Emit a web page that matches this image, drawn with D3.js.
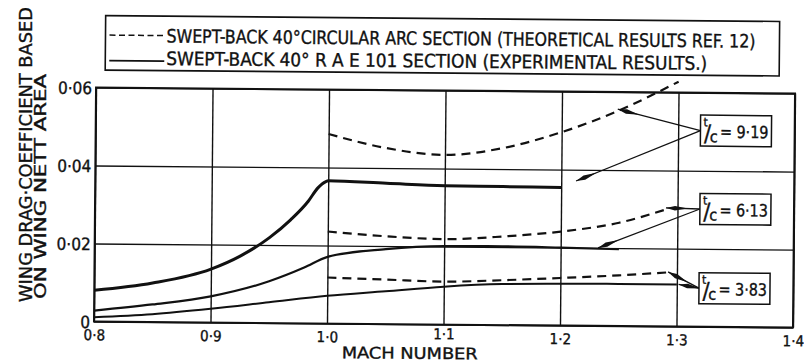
<!DOCTYPE html>
<html><head><meta charset="utf-8">
<script src="https://cdn.jsdelivr.net/npm/d3@7"></script>
<style>html,body{margin:0;padding:0;background:#fff;}svg{display:block;}</style>
</head><body>
<svg id="chart" width="804" height="363"></svg>
<script>
// Axis ticks
const machTicks = [0.8, 0.9, 1.0, 1.1, 1.2, 1.3, 1.4];
const machTickLabels = ["0·8", "0·9", "1·0", "1·1", "1·2", "1·3", "1·4"];
const cdTicks = [0, 0.02, 0.04, 0.06];
const cdTickLabels = ["0", "0·02", "0·04", "0·06"];

// Swept-back 40° RAE 101 section, experimental (solid)
const expMach919 = [0.80, 0.85, 0.90, 0.925, 0.95, 0.968, 0.983, 0.991, 0.998, 1.00, 1.05, 1.10, 1.15, 1.20];
const expCd919   = [0.0080, 0.0100, 0.0137, 0.0171, 0.0219, 0.0265, 0.0313, 0.0347, 0.0364, 0.0366, 0.0361, 0.0356, 0.0355, 0.0354];
const expMach613 = [0.80, 0.85, 0.90, 0.95, 0.98, 1.00, 1.05, 1.10, 1.15, 1.20, 1.25];
const expCd613   = [0.0028, 0.0045, 0.0067, 0.0107, 0.0143, 0.0171, 0.0192, 0.0201, 0.0202, 0.0200, 0.0197];
const expMach383 = [0.80, 0.85, 0.90, 0.95, 1.00, 1.05, 1.10, 1.15, 1.20, 1.25, 1.30];
const expCd383   = [0.0011, 0.0020, 0.0035, 0.0053, 0.0071, 0.0084, 0.0097, 0.0105, 0.0107, 0.0108, 0.0108];

// Swept-back 40° circular arc section, theoretical (dashed)
const theoMach919 = [1.00, 1.05, 1.10, 1.15, 1.20, 1.25, 1.30];
const theoCd919   = [0.0486, 0.0451, 0.0435, 0.0454, 0.0496, 0.0554, 0.0628];
const theoMach613 = [1.00, 1.05, 1.10, 1.15, 1.20, 1.25, 1.293];
const theoCd613   = [0.0236, 0.0225, 0.0219, 0.0227, 0.0241, 0.0265, 0.0303];
const theoMach383 = [1.00, 1.05, 1.10, 1.15, 1.20, 1.25, 1.293];
const theoCd383   = [0.0118, 0.0114, 0.0110, 0.0115, 0.0122, 0.0130, 0.0139];

// Thickness/chord ratios
const thicknessLabels = ["9·19", "6·13", "3·83"];

const legendTexts = [
  "SWEPT-BACK 40°CIRCULAR ARC SECTION (THEORETICAL RESULTS REF. 12)",
  "SWEPT-BACK 40° R A E 101 SECTION (EXPERIMENTAL RESULTS.)"
];

const FONT = "'DejaVu Sans Condensed', 'DejaVu Sans', sans-serif";
const INK = "#111";

const svg = d3.select("#chart");
svg.append("rect").attr("width", 804).attr("height", 363).attr("fill", "#fff");

const x = d3.scaleLinear().domain([0.8, 1.4]).range([94, 793]);
const y = d3.scaleLinear().domain([0, 0.06]).range([321.5, 87.5]);

// Lettering helper: slightly heavier strokes like pen lettering
const ink = sel => sel.attr("fill", INK).attr("stroke", INK).attr("stroke-width", 0.35)
  .style("font-family", FONT);

// The drawing sits slightly turned on the sheet
const g = svg.append("g").attr("transform", "rotate(0.5,94,321.5)");

// Grid + tick labels
const xAxis = d3.axisBottom(x).tickValues(machTicks)
  .tickSize(-(y(0) - y(0.06))).tickPadding(8)
  .tickFormat((d, i) => machTickLabels[i]);
const gx = g.append("g").attr("transform", `translate(0,${y(0)})`).call(xAxis);
const yAxis = d3.axisLeft(y).tickValues(cdTicks)
  .tickSize(-(x(1.4) - x(0.8))).tickPadding(4)
  .tickFormat((d, i) => cdTickLabels[i]);
const gy = g.append("g").attr("transform", `translate(${x(0.8)},0)`).call(yAxis);

[gx, gy].forEach(a => {
  a.select(".domain").remove();
  a.selectAll(".tick line").attr("stroke", INK).attr("stroke-width", 1.4);
  a.selectAll(".tick text").call(ink);
});
gx.selectAll(".tick text").style("font-size", "15px")
  .attr("dy", d => d === 1.1 ? "0.45em" : "0.71em");
gy.selectAll(".tick text").style("font-size", "17px").attr("dy", "0.36em");

// Plot frame
g.append("rect")
  .attr("x", x(0.8)).attr("y", y(0.06))
  .attr("width", x(1.4) - x(0.8)).attr("height", y(0) - y(0.06))
  .attr("fill", "none").attr("stroke", INK).attr("stroke-width", 2);

// Curves
const line = d3.line().x(d => x(d[0])).y(d => y(d[1])).curve(d3.curveMonotoneX);
const zip = (a, b) => a.map((v, i) => [v, b[i]]);
const series = [
  { pts: zip(expMach919, expCd919), dash: null, w: 3 },
  { pts: zip(expMach613, expCd613), dash: null, w: 2.2 },
  { pts: zip(expMach383, expCd383), dash: null, w: 2 },
  { pts: zip(theoMach919, theoCd919), dash: "9,6", w: 2.2 },
  { pts: zip(theoMach613, theoCd613), dash: "9,6", w: 2.2 },
  { pts: zip(theoMach383, theoCd383), dash: "9,6", w: 2.2 }
];
g.append("g").selectAll("path").data(series).join("path")
  .attr("d", d => line(d.pts))
  .attr("fill", "none").attr("stroke", INK)
  .attr("stroke-width", d => d.w)
  .attr("stroke-dasharray", d => d.dash)
  .attr("stroke-linecap", "butt");

// Axis title
g.append("text").text("MACH  NUMBER")
  .attr("x", 342).attr("y", 356)
  .attr("textLength", 136).attr("lengthAdjust", "spacingAndGlyphs")
  .style("font-size", "16px").call(ink);

// Legend
const lg = g.append("g");
lg.append("rect").attr("x", 103).attr("y", 15.5).attr("width", 674).attr("height", 54.5)
  .attr("fill", "#fff").attr("stroke", INK).attr("stroke-width", 1.6);
lg.append("line").attr("x1", 107).attr("x2", 163).attr("y1", 35).attr("y2", 35)
  .attr("stroke", INK).attr("stroke-width", 1.5).attr("stroke-dasharray", "6,3.5");
lg.append("line").attr("x1", 107).attr("x2", 162).attr("y1", 60.5).attr("y2", 60.5)
  .attr("stroke", INK).attr("stroke-width", 1.6);
lg.append("text").text(legendTexts[0])
  .attr("x", 164).attr("y", 42)
  .attr("textLength", 589).attr("lengthAdjust", "spacingAndGlyphs")
  .style("font-size", "18.5px").call(ink);
lg.append("text").text(legendTexts[1])
  .attr("x", 164).attr("y", 64.5)
  .attr("textLength", 541).attr("lengthAdjust", "spacingAndGlyphs")
  .style("font-size", "18.5px").call(ink);

// t/c call-outs with pointers to the dashed and solid curves
const callouts = [
  { label: thicknessLabels[0], box: [1.3496, 0.0503], tips: [[1.248, 0.0556], [1.2127, 0.0371]] },
  { label: thicknessLabels[1], box: [1.3497, 0.0302], tips: [[1.2901, 0.0304], [1.2321, 0.0200]] },
  { label: thicknessLabels[2], box: [1.3495, 0.0099], tips: [[1.2924, 0.0140], [1.3015, 0.0108]] }
];
const BW = 71, BH = 31;
callouts.forEach(c => {
  const cx = x(c.box[0]), cy = y(c.box[1]);
  const left = cx - BW / 2, top = cy - BH / 2;
  const cg = g.append("g");
  c.tips.forEach(t => {
    const tx = x(t[0]), ty = y(t[1]);
    const sx = left, sy = cy;
    cg.append("line").attr("x1", sx).attr("y1", sy).attr("x2", tx).attr("y2", ty)
      .attr("stroke", INK).attr("stroke-width", 1.3);
    const ang = Math.atan2(sy - ty, sx - tx);
    const ca = Math.cos(ang), sa = Math.sin(ang);
    const p = (a, b) => [tx + a * ca - b * sa, ty + a * sa + b * ca];
    cg.append("polygon")
      .attr("points", [p(0, 0), p(9, -2.3), p(22, 0), p(9, 2.3)].map(q => q.join(",")).join(" "))
      .attr("fill", INK);
  });
  cg.append("rect").attr("x", left).attr("y", top).attr("width", BW).attr("height", BH)
    .attr("fill", "#fff").attr("stroke", INK).attr("stroke-width", 1.5);
  // "t/c = n" as one piece of lettering
  const tt = cg.append("text").call(ink);
  tt.append("tspan").text("t").attr("x", left + 3).attr("y", top + 11).style("font-size", "12px");
  tt.append("tspan").text("/").attr("x", left + 3.5).attr("y", top + 26).style("font-size", "23px");
  tt.append("tspan").text("c").attr("x", left + 9.5).attr("y", top + 27).style("font-size", "16px");
  tt.append("tspan").text(" = " + c.label).attr("x", left + 15).attr("y", top + 22.5)
    .attr("textLength", 53).attr("lengthAdjust", "spacingAndGlyphs")
    .style("font-size", "17px");
});

// Y-axis title (two lines)
svg.append("text").text("WING  DRAG·COEFFICIENT  BASED")
  .attr("transform", "translate(32,302) rotate(-90)")
  .attr("textLength", 295).attr("lengthAdjust", "spacingAndGlyphs")
  .style("font-size", "18px").call(ink);
svg.append("text").text("ON  WING  NETT  AREA")
  .attr("transform", "translate(45.5,299) rotate(-90)")
  .attr("textLength", 225).attr("lengthAdjust", "spacingAndGlyphs")
  .style("font-size", "15px").call(ink);
</script>
</body></html>
